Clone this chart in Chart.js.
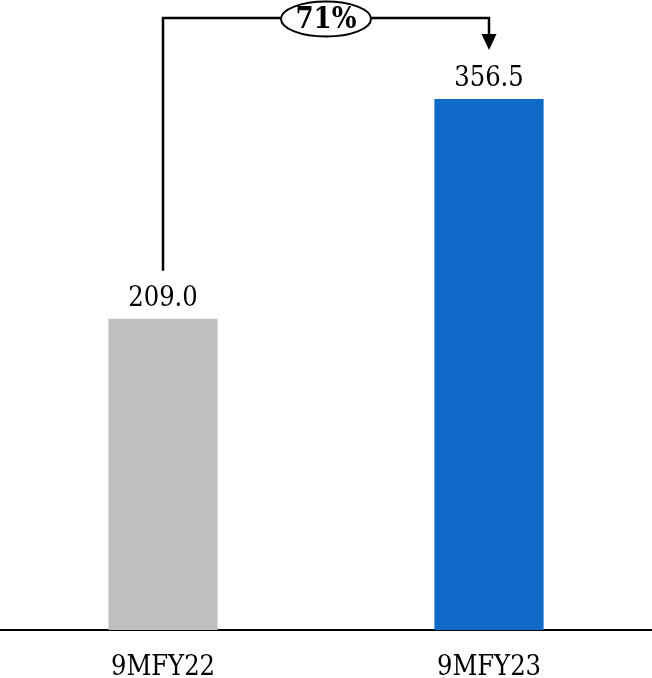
<!DOCTYPE html>
<html lang="en">
<head>
    <meta charset="UTF-8">
    <title>9MFY22 vs 9MFY23</title>
    <script src="https://cdn.jsdelivr.net/npm/chart.js"></script>
    <style>
        body { margin: 0; background: #fff; }
    </style>
</head>
<body>

    <canvas id="grafico" width="652" height="678"></canvas>

    <script>
        const periodi = ['9MFY22', '9MFY23'];
        const valori = [209.0, 356.5];
        const colori = ['#BFBFBF', '#0E6AC6'];
        const FONT = "'DejaVu Serif Condensed', 'DejaVu Serif', serif";

        // etichette sopra le barre + freccia con la crescita percentuale
        const etichette = {
            id: 'etichette',
            afterDatasetsDraw(chart) {
                const ctx = chart.ctx;
                const barre = chart.getDatasetMeta(0).data;
                ctx.save();
                ctx.fillStyle = '#000';
                ctx.font = '27px ' + FONT;
                ctx.textAlign = 'center';
                ctx.textBaseline = 'alphabetic';
                barre.forEach((b, i) => {
                    ctx.fillText(valori[i].toFixed(1), b.x, b.y - 13);
                });

                // freccia
                const a = barre[0], b = barre[1];
                const yTop = 18;
                ctx.strokeStyle = '#000';
                ctx.lineWidth = 2.5;
                ctx.beginPath();
                ctx.moveTo(a.x, a.y - 48);
                ctx.lineTo(a.x, yTop);
                ctx.lineTo(b.x, yTop);
                ctx.lineTo(b.x, b.y - 64);
                ctx.stroke();
                ctx.fillStyle = '#000';
                ctx.beginPath();
                ctx.moveTo(b.x - 7.5, b.y - 65);
                ctx.lineTo(b.x + 7.5, b.y - 65);
                ctx.lineTo(b.x, b.y - 49);
                ctx.closePath();
                ctx.fill();

                // ovale con la percentuale
                const cx = (a.x + b.x) / 2;
                ctx.beginPath();
                ctx.ellipse(cx, 19, 45, 17.5, 0, 0, Math.PI * 2);
                ctx.fillStyle = '#fff';
                ctx.fill();
                ctx.lineWidth = 2;
                ctx.stroke();
                const crescita = Math.round((valori[1] / valori[0] - 1) * 100);
                ctx.fillStyle = '#000';
                ctx.font = 'bold 29px ' + FONT;
                ctx.textBaseline = 'middle';
                ctx.fillText(crescita + '%', cx, 20);
                ctx.restore();
            }
        };

        const ctx = document.getElementById('grafico').getContext('2d');
        const chart = new Chart(ctx, {
            type: 'bar',
            data: {
                labels: periodi,
                datasets: [{
                    data: valori,
                    backgroundColor: colori,
                    categoryPercentage: 1,
                    barPercentage: 0.335
                }]
            },
            options: {
                responsive: false,
                animation: false,
                layout: { padding: 0 },
                plugins: {
                    legend: { display: false },
                    tooltip: { enabled: false }
                },
                scales: {
                    x: {
                        grid: { display: false },
                        border: { display: true, color: '#000', width: 2 },
                        ticks: {
                            color: '#000',
                            padding: 14,
                            font: { family: FONT, size: 27 }
                        },
                        afterFit(scale) { scale.height = 48; }
                    },
                    y: {
                        display: false,
                        min: 0,
                        max: 423
                    }
                }
            },
            plugins: [etichette]
        });
    </script>

</body>
</html>
